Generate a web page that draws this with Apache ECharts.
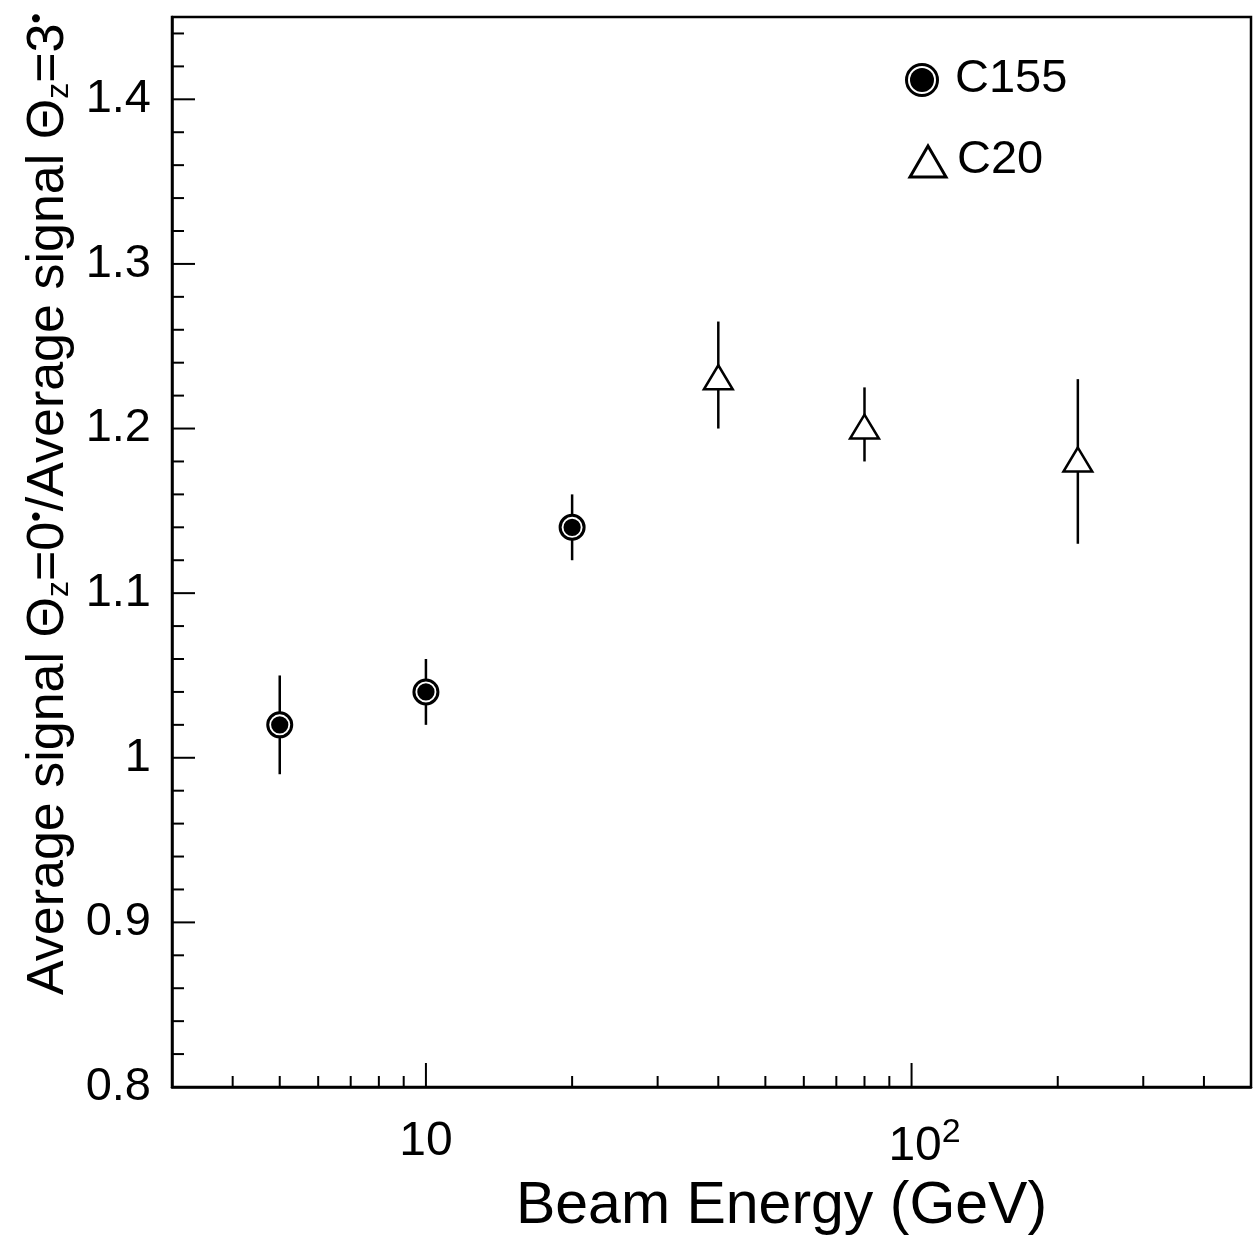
<!DOCTYPE html>
<html>
<head>
<meta charset="utf-8">
<script src="https://cdn.jsdelivr.net/npm/echarts@6/dist/echarts.min.js"></script>
<style>
  html, body { margin: 0; padding: 0; background: #fff; }
  #chart { width: 1257px; height: 1242px; }
</style>
</head>
<body>
<div id="chart"></div>
<script>
// Signal ratio (0 deg / 3 deg) versus beam energy for two calorimeter modules
const energyC155 = [5, 10, 20];
const ratioC155  = [1.02, 1.04, 1.14];
const lowC155    = [0.99, 1.02, 1.12];
const highC155   = [1.05, 1.06, 1.16];

const energyC20 = [40, 80, 220];
const ratioC20  = [1.23, 1.20, 1.18];
const lowC20    = [1.20, 1.18, 1.13];
const highC20   = [1.265, 1.225, 1.23];

// Tick positions (log energy axis and linear ratio axis)
const xMajorTicks = [10, 100];
const xMinorTicks = [4, 5, 6, 7, 8, 9, 20, 30, 40, 50, 60, 70, 80, 90, 200, 300, 400];
const yMajorTicks = [0.8, 0.9, 1.0, 1.1, 1.2, 1.3, 1.4];
const yMinorTicks = [0.82, 0.84, 0.86, 0.88, 0.92, 0.94, 0.96, 0.98,
                     1.02, 1.04, 1.06, 1.08, 1.12, 1.14, 1.16, 1.18,
                     1.22, 1.24, 1.26, 1.28, 1.32, 1.34, 1.36, 1.38,
                     1.42, 1.44];

const X_MIN = 3, X_MAX = 500, Y_MIN = 0.8, Y_MAX = 1.45;
const FONT = '"Liberation Sans", Arial, sans-serif';

function zip(xs, ys, lo, hi) {
  return xs.map((x, i) => [x, ys[i], lo[i], hi[i]]);
}

// Inward ticks on the bottom axis
function xTick(len) {
  return function (params, api) {
    const p = api.coord([api.value(0), Y_MIN]);
    return { type: 'line', shape: { x1: p[0], y1: p[1], x2: p[0], y2: p[1] - len },
             style: { stroke: '#000', lineWidth: 2 } };
  };
}
// Inward ticks on the left axis
function yTick(len) {
  return function (params, api) {
    const p = api.coord([X_MIN, api.value(1)]);
    return { type: 'line', shape: { x1: p[0], y1: p[1], x2: p[0] + len, y2: p[1] },
             style: { stroke: '#000', lineWidth: 2 } };
  };
}

function errorBar(api) {
  const x = api.value(0);
  const a = api.coord([x, api.value(2)]);
  const b = api.coord([x, api.value(3)]);
  return { type: 'line', shape: { x1: a[0], y1: a[1], x2: b[0], y2: b[1] },
           style: { stroke: '#000', lineWidth: 2.5 } };
}

function circleMarker(cx, cy, r) {
  return [
    { type: 'circle', shape: { cx: cx, cy: cy, r: r }, style: { fill: '#fff', stroke: '#000', lineWidth: 3 } },
    { type: 'circle', shape: { cx: cx, cy: cy, r: r * 0.72 }, style: { fill: '#000' } }
  ];
}

function triangleMarker(cx, cy, h) {
  return {
    type: 'polygon',
    shape: { points: [[cx, cy - h * 0.58], [cx + h * 0.6, cy + h * 0.42], [cx - h * 0.6, cy + h * 0.42]] },
    style: { fill: '#fff', stroke: '#000', lineWidth: 2.5, lineJoin: 'miter' }
  };
}

const chart = echarts.init(document.getElementById('chart'), null, { renderer: 'canvas' });

chart.setOption({
  animation: false,
  backgroundColor: '#fff',
  grid: { left: 172, right: 6, top: 17, bottom: 155, show: true, borderColor: '#000', borderWidth: 2.5, backgroundColor: 'transparent' },
  xAxis: {
    type: 'log', logBase: 10, min: X_MIN, max: X_MAX,
    axisLine: { show: true, lineStyle: { color: '#000', width: 2.5 } },
    axisTick: { show: false }, minorTick: { show: false },
    splitLine: { show: false }, minorSplitLine: { show: false },
    axisLabel: {
      margin: 29, color: '#000', fontFamily: FONT, fontSize: 48,
      formatter: function (v) {
        const e = Math.log10(v), r = Math.round(e);
        if (Math.abs(e - r) > 1e-6) return '';
        if (r === 1) return '{b|10}';
        if (r === 2) return '{bp|10}{s|2}';
        return '';
      },
      rich: {
        b:  { fontFamily: FONT, fontSize: 48, color: '#000', lineHeight: 52 },
        bp: { fontFamily: FONT, fontSize: 48, color: '#000', lineHeight: 52, padding: [0, 0, 0, 26] },
        s:  { fontFamily: FONT, fontSize: 34, color: '#000', verticalAlign: 'top', padding: [0, 0, 28, 0] }
      }
    },
    name: 'Beam Energy (GeV)', nameLocation: 'middle', nameGap: 90,
    nameTextStyle: { fontFamily: FONT, fontSize: 59, color: '#000', padding: [0, 0, 0, 140] }
  },
  yAxis: {
    type: 'value', min: Y_MIN, max: Y_MAX, interval: 0.1,
    axisLine: { show: true, lineStyle: { color: '#000', width: 2.5 } },
    axisTick: { show: false }, splitLine: { show: false },
    axisLabel: {
      margin: 21, color: '#000', fontFamily: FONT, fontSize: 47, showMaxLabel: false,
      formatter: function (v) {
        const t = v * 10;
        if (Math.abs(t - Math.round(t)) > 1e-6) return '';
        return String(Math.round(t) / 10);
      }
    },
    name: 'Average signal {t|Θ}{sub|z}=0{sup|•}/Average signal {t|Θ}{sub|z}=3{sup|•}',
    nameLocation: 'middle', nameRotate: 90, nameGap: 90,
    nameTextStyle: {
      fontFamily: FONT, fontSize: 52, color: '#000', padding: [0, 0, 0, 96],
      rich: {
        t:   { fontFamily: FONT, fontSize: 52, color: '#000' },
        sub: { fontFamily: FONT, fontSize: 32, color: '#000', verticalAlign: 'bottom', padding: [8, 0, 0, 0] },
        sup: { fontFamily: FONT, fontSize: 30, color: '#000', verticalAlign: 'top', padding: [0, 0, 14, 0] }
      }
    }
  },
  series: [
    { type: 'custom', silent: true, clip: false, renderItem: xTick(11), data: xMinorTicks.map(v => [v, Y_MIN]) },
    { type: 'custom', silent: true, clip: false, renderItem: xTick(24), data: xMajorTicks.map(v => [v, Y_MIN]) },
    { type: 'custom', silent: true, clip: false, renderItem: yTick(12), data: yMinorTicks.map(v => [X_MIN, v]) },
    { type: 'custom', silent: true, clip: false, renderItem: yTick(23), data: yMajorTicks.map(v => [X_MIN, v]) },
    {
      name: 'C155', type: 'custom', silent: true,
      encode: { x: 0, y: 1 },
      data: zip(energyC155, ratioC155, lowC155, highC155),
      renderItem: function (params, api) {
        const c = api.coord([api.value(0), api.value(1)]);
        return { type: 'group', children: [errorBar(api)].concat(circleMarker(c[0], c[1], 12)) };
      }
    },
    {
      name: 'C20', type: 'custom', silent: true,
      encode: { x: 0, y: 1 },
      data: zip(energyC20, ratioC20, lowC20, highC20),
      renderItem: function (params, api) {
        const c = api.coord([api.value(0), api.value(1)]);
        return { type: 'group', children: [errorBar(api), triangleMarker(c[0], c[1], 24)] };
      }
    }
  ],
  graphic: [
    { type: 'circle', shape: { cx: 922, cy: 80, r: 15.5 }, style: { fill: '#fff', stroke: '#000', lineWidth: 3 } },
    { type: 'circle', shape: { cx: 922, cy: 80, r: 12 }, style: { fill: '#000' } },
    { type: 'text', left: 955, top: 56, style: { text: 'C155', font: '47px ' + FONT, fill: '#000' } },
    { type: 'polygon', shape: { points: [[928, 146], [946, 177], [910, 177]] },
      style: { fill: '#fff', stroke: '#000', lineWidth: 3, lineJoin: 'miter' } },
    { type: 'text', left: 957, top: 137, style: { text: 'C20', font: '47px ' + FONT, fill: '#000' } }
  ]
});
</script>
</body>
</html>
